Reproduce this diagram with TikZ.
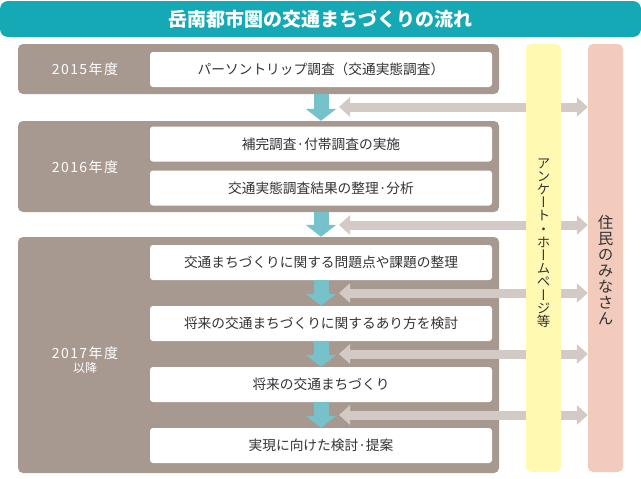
\documentclass[tikz,border=0pt]{standalone}
\usepackage{fontspec}
\setmainfont{Noto Sans CJK JP}
\newfontfamily\vjp[RawFeature=+vert]{Noto Sans CJK JP}
\newfontfamily\yearfont[LetterSpace=10]{Noto Sans CJK JP}
\usetikzlibrary{arrows.meta}
\definecolor{titlec}{HTML}{14A9B5}
\definecolor{greyc}{HTML}{A79990}
\definecolor{bluec}{HTML}{77C1CB}
\definecolor{garrowc}{HTML}{D4CAC5}
\definecolor{yellowc}{HTML}{FFF9B1}
\definecolor{pinkc}{HTML}{F3CBBD}
\definecolor{textc}{HTML}{333333}
\begin{document}
\begin{tikzpicture}[x=1pt,y=-1pt,
  yearbox/.style={fill=greyc, rounded corners=5pt, minimum width=481pt, inner sep=0pt, draw=none},
  wbox/.style={fill=white, rounded corners=3pt, minimum width=342pt, minimum height=35pt, inner sep=0pt,
    font=\fontsize{13.7}{16}\selectfont, text=textc},
  yearlbl/.style={text=white, font=\yearfont\fontsize{14}{16}\selectfont, inner sep=0pt},
  colbox/.style={rounded corners=5pt, minimum width=35pt, minimum height=428pt, inner sep=0pt},
  downarrow/.style={draw=bluec, line width=15pt, -{Triangle[width=30pt,length=12pt]}},
  twoarrow/.style={draw=garrowc, line width=9pt, {Triangle[width=19pt,length=11pt]}-{Triangle[width=19pt,length=11pt]}}
]
\useasboundingbox (0,0) rectangle (641,479);

% title
\node[fill=titlec, rounded corners=8pt, minimum width=641pt, minimum height=36pt, inner sep=0pt,
  text=white, font=\bfseries\fontsize{19}{22}\selectfont] (title) at (320.5,19) {岳南都市圏の交通まちづくりの流れ};

% year boxes
\node[yearbox, minimum height=50pt] (g1) at (258.5,69) {};
\node[yearbox, minimum height=91pt] (g2) at (258.5,166.5) {};
\node[yearbox, minimum height=236pt] (g3) at (258.5,355) {};

% white boxes
\node[wbox] (w1) at (321,69.5) {パーソントリップ調査（交通実態調査）};
\node[wbox] (w2) at (321,144) {補完調査·付帯調査の実施};
\node[wbox] (w3) at (321,188) {交通実態調査結果の整理·分析};
\node[wbox] (w4) at (321,262.5) {交通まちづくりに関する問題点や課題の整理};
\node[wbox] (w5) at (321,323.5) {将来の交通まちづくりに関するあり方を検討};
\node[wbox] (w6) at (321,384.5) {将来の交通まちづくり};
\node[wbox] (w7) at (321,445.5) {実現に向けた検討·提案};

% year labels
\node[yearlbl] (y1) at (85,69) {2015年度};
\node[yearlbl] (y2) at (85,167) {2016年度};
\node[yearlbl] (y3) at (85,353) {2017年度};
\node[yearlbl, font=\fontsize{12}{14}\selectfont] (y3b) at (85,368) {以降};

% blue down arrows
\draw[downarrow] (w1 |- g1.south) -- (w1 |- g2.north);
\draw[downarrow] (w3 |- g2.south) -- (w3 |- g3.north);
\draw[downarrow] (w4.south) -- (w5.north);
\draw[downarrow] (w5.south) -- (w6.north);
\draw[downarrow] (w6.south) -- (w7.north);

% pink column
\node[colbox, fill=pinkc] (pk) at (605.5,258) {};

% grey double arrows
\coordinate (a1) at (339,107);
\coordinate (a2) at (339,225);
\coordinate (a3) at (339,293);
\coordinate (a4) at (339,354);
\coordinate (a5) at (339,415);
\foreach \c in {a1,a2,a3,a4,a5}{
  \draw[twoarrow] (\c) -- (\c -| pk.west);
}

% yellow column
\node[colbox, fill=yellowc] (yc) at (543.5,258) {};

% vertical texts
\node[font=\vjp\fontsize{13.5}{13.2}\selectfont, align=center, inner sep=0pt, text=textc] (vt1) at (yc |- 0,243)
  {ア\\ン\\ケ\\ー\\ト\\・\\ホ\\ー\\ム\\ペ\\ー\\ジ\\等};
\node[font=\vjp\fontsize{15.5}{16}\selectfont, align=center, inner sep=0pt, text=textc] (vt2) at (pk |- 0,270)
  {住\\民\\の\\み\\な\\さ\\ん};
\end{tikzpicture}
\end{document}
